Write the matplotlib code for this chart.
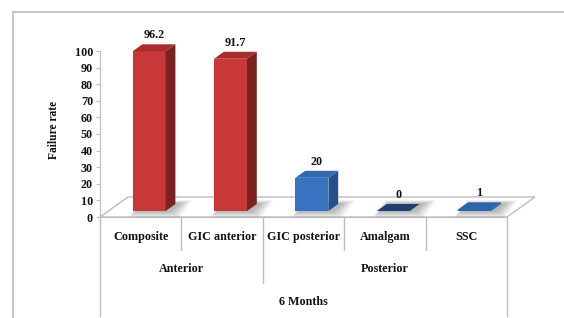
import matplotlib
matplotlib.use("Agg")
import matplotlib.pyplot as plt
from matplotlib.patches import Polygon
from matplotlib.lines import Line2D
import numpy as np

# ---- data ----
categories = ["Composite", "GIC anterior", "GIC posterior", "Amalgam", "SSC"]
values = [96.2, 91.7, 20, 0, 1]
value_labels = ["96.2", "91.7", "20", "0", "1"]
groups = ["Anterior", "Posterior"]
group_spans = [(0, 1), (2, 4)]
period = "6 Months"
yticks = list(range(0, 101, 10))
ylabel = "Failure rate"

# ---- styles ----
front_cols = ["#C93838", "#C93838", "#3873C2", "#1F3F6E", "#2E64AC"]
side_cols = ["#7A2222", "#7A2222", "#24508C", "#1F3F6E", "#2E64AC"]
top_cols = ["#A82E2E", "#A82E2E", "#3468B0", "#1F3F6E", "#2E64AC"]
grey = "#BDBDBD"
FS = 8.7
font = dict(family="Liberation Serif", fontweight="bold", color="#111111")

W, H = 564, 318
fig = plt.figure(figsize=(W / 100, H / 100), dpi=100)
fig.patch.set_facecolor("white")

# plot area in pixels: x 100..507, y 51..217
ax = fig.add_axes([100 / W, (H - 217) / H, 407 / W, 166 / H])
ax.set_xlim(-0.5, len(categories) - 0.5)
ax.set_ylim(0, 100)
ax.patch.set_alpha(0)
for s in ["top", "right"]:
    ax.spines[s].set_visible(False)
ax.spines["left"].set_color(grey)
ax.spines["bottom"].set_color(grey)
ax.set_yticks(yticks)
ax.set_yticklabels([str(t) for t in yticks], fontsize=FS, **font)
ax.tick_params(axis="y", length=3, color=grey, pad=2)
ax.set_xticks([])
ax.set_ylabel(ylabel, fontsize=FS - 0.4, **font)
ax.yaxis.set_label_coords((60 - 100) / 407, (217 - 130) / 166)

# pixel to data conversion factors
px_x = 407 / 5.0      # px per category
px_y = 166 / 100.0    # px per value unit
depth_dx = 28 / px_x
depth_dy = 20 / px_y

# floor
floor = Polygon([(-0.5, 0), (4.5, 0), (4.5 + depth_dx, depth_dy), (-0.5 + depth_dx, depth_dy)],
                closed=True, facecolor="white", edgecolor=grey, lw=1.0, clip_on=False, zorder=1)
ax.add_patch(floor)

# bars
bw = 33 / px_x
off_x = 0.3 * depth_dx
off_y = 0.3 * depth_dy
bdx = 0.35 * depth_dx
bdy = 0.35 * depth_dy
for i, v in enumerate(values):
    x0 = i - bw / 2 + off_x
    base = off_y
    # soft blurred shadow around the base
    n = 7
    for k in range(n, 0, -1):
        gx = k * 1.6 / px_x
        gy = k * 0.55
        cx = 3 / px_x
        sh = Polygon([(x0 - gx * 0.6 + cx, base - gy), (x0 + bw + gx + cx, base - gy),
                      (x0 + bw + bdx + gx * 1.2 + cx, base + bdy + gy * 0.6),
                      (x0 + bdx - gx * 0.4 + cx, base + bdy + gy * 0.6)],
                     closed=True, facecolor="black", alpha=0.045, lw=0, clip_on=False, zorder=2)
        ax.add_patch(sh)
    if v > 0.5:
        ax.bar(x0, v, width=bw, bottom=base, align="edge", color=front_cols[i],
               lw=0, zorder=4, clip_on=False)
        side = Polygon([(x0 + bw, base), (x0 + bw + bdx, base + bdy),
                        (x0 + bw + bdx, base + v + bdy), (x0 + bw, base + v)],
                       closed=True, facecolor=side_cols[i], lw=0, clip_on=False, zorder=4)
        ax.add_patch(side)
    top = Polygon([(x0, base + v), (x0 + bw, base + v),
                   (x0 + bw + bdx, base + v + bdy), (x0 + bdx, base + v + bdy)],
                  closed=True, facecolor=top_cols[i], lw=0, clip_on=False, zorder=5)
    ax.add_patch(top)
    ax.text(x0 + (bw + bdx) / 2, base + v + bdy + 1.8, value_labels[i],
            ha="center", va="bottom", fontsize=FS, zorder=6, clip_on=False, **font)

# multi-level category axis
y_lvl0 = -(237 - 217) / px_y
y_lvl1 = -(269 - 217) / px_y
y_lvl2 = -(302 - 217) / px_y
y_end0 = -(250 - 217) / px_y
y_end1 = -(283 - 217) / px_y
y_end2 = -(316 - 217) / px_y
for i, c in enumerate(categories):
    ax.text(i, y_lvl0, c, ha="center", va="center", fontsize=FS, clip_on=False, **font)
for g, (a, b) in zip(groups, group_spans):
    ax.text((a + b) / 2, y_lvl1, g, ha="center", va="center", fontsize=FS, clip_on=False, **font)
ax.text((len(categories) - 1) / 2, y_lvl2, period, ha="center", va="center",
        fontsize=FS, clip_on=False, **font)

boundaries = [i + 0.5 for i in range(len(categories) - 1)]
group_bounds = [b + 0.5 for (_, b) in group_spans[:-1]]
for xb in boundaries:
    yend = y_end1 if xb in group_bounds else y_end0
    ax.plot([xb, xb], [0, yend], color=grey, lw=1.0, clip_on=False, zorder=1)
for xb in [-0.5, len(categories) - 0.5]:
    ax.plot([xb, xb], [0, y_end2], color=grey, lw=1.0, clip_on=False, zorder=1)

# outer chart border (left and top)
fig.add_artist(Line2D([13 / W, 13 / W], [0, 1 - 12 / H], color=grey, lw=1.2))
fig.add_artist(Line2D([13 / W, 1], [1 - 12 / H, 1 - 12 / H], color=grey, lw=1.2))

fig.savefig("out.png", dpi=100, facecolor="white")
